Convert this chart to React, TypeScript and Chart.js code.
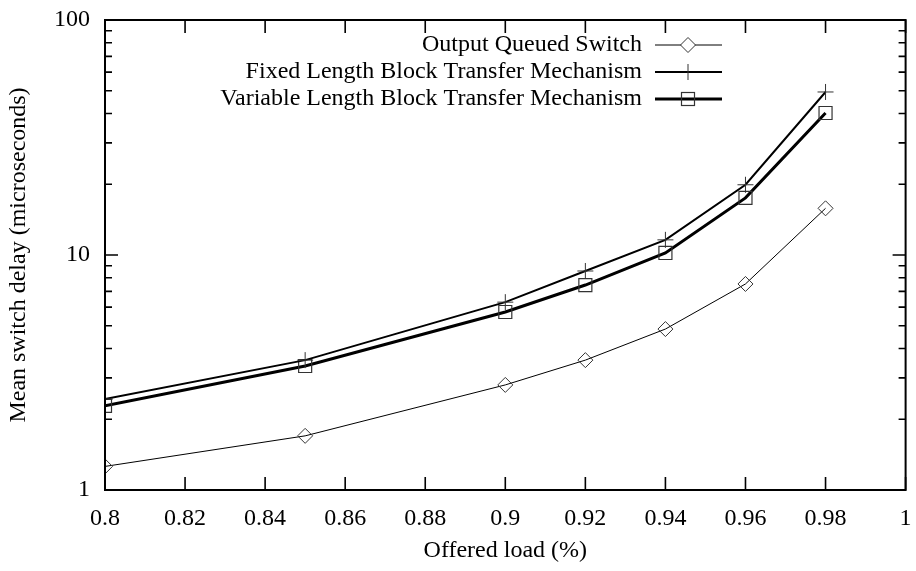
import React, { useEffect, useRef } from "react";
import { Chart, registerables } from "chart.js";

Chart.register(...registerables);

const loads = [0.8, 0.85, 0.9, 0.92, 0.94, 0.96, 0.98];
const outputQueued = [1.26, 1.7, 2.8, 3.57, 4.84, 7.53, 15.8];
const fixedLength = [2.44, 3.57, 6.3, 8.55, 11.6, 19.9, 49.4];
const variableLength = [2.28, 3.37, 5.72, 7.45, 10.2, 17.5, 40.2];
const seriesNames = [
  "Output Queued Switch",
  "Fixed Length Block Transfer Mechanism",
  "Variable Length Block Transfer Mechanism",
];
const yTickValues = [1, 10, 100];
const xTitle = "Offered load (%)";
const yTitle = "Mean switch delay (microseconds)";

const FONT = "'Liberation Serif', 'Times New Roman', serif";
const FS = 24;

const framePlugin = {
  id: "frameTicks",
  afterDraw(chart: any) {
    const ctx = chart.ctx;
    const { left, right, top, bottom } = chart.chartArea;
    const xs = chart.scales.x;
    const ys = chart.scales.y;
    ctx.save();
    ctx.strokeStyle = "#000";
    ctx.lineWidth = 1.6;
    ctx.beginPath();
    for (let k = 0; k <= 10; k++) {
      const px = xs.getPixelForValue(0.8 + k * 0.02);
      ctx.moveTo(px, bottom);
      ctx.lineTo(px, bottom - 13);
      ctx.moveTo(px, top);
      ctx.lineTo(px, top + 13);
    }
    for (let d = 1; d < 100; d *= 10) {
      for (let m = 1; m <= 10; m++) {
        const py = ys.getPixelForValue(d * m);
        const len = m === 1 || m === 10 ? 13 : 7;
        ctx.moveTo(left, py);
        ctx.lineTo(left + len, py);
        ctx.moveTo(right, py);
        ctx.lineTo(right - len, py);
      }
    }
    ctx.stroke();
    ctx.lineWidth = 2;
    ctx.strokeRect(left, top, right - left, bottom - top);

    // legend
    const rows = [45, 72, 99];
    const widths = [1, 2, 3];
    ctx.font = `${FS}px ${FONT}`;
    ctx.textAlign = "right";
    ctx.textBaseline = "middle";
    rows.forEach((y, i) => {
      ctx.fillStyle = "#000";
      ctx.fillText(seriesNames[i], 642, y);
      ctx.lineWidth = widths[i];
      ctx.strokeStyle = "#000";
      ctx.beginPath();
      ctx.moveTo(655, y);
      ctx.lineTo(722, y);
      ctx.stroke();
      ctx.lineWidth = 1;
      ctx.strokeStyle = "#333";
      ctx.fillStyle = "#fff";
      if (i === 0) {
        ctx.beginPath();
        ctx.moveTo(688, y - 7.5);
        ctx.lineTo(695.5, y);
        ctx.lineTo(688, y + 7.5);
        ctx.lineTo(680.5, y);
        ctx.closePath();
        ctx.fill();
        ctx.stroke();
      } else if (i === 1) {
        ctx.beginPath();
        ctx.moveTo(688, y - 8);
        ctx.lineTo(688, y + 8);
        ctx.stroke();
      } else {
        ctx.lineWidth = 1.2;
        ctx.strokeRect(681.5, y - 6.5, 13, 13);
      }
    });
    ctx.restore();
  },
};

export default function App() {
  const ref = useRef<HTMLCanvasElement | null>(null);
  useEffect(() => {
    if (!ref.current) return;
    const mk = (vals: number[]) => loads.map((x, i) => ({ x, y: vals[i] }));
    const chart = new Chart(ref.current, {
      type: "line",
      data: {
        datasets: [
          {
            label: seriesNames[0],
            data: mk(outputQueued),
            borderColor: "#000",
            borderWidth: 1,
            pointStyle: "rectRot",
            pointRadius: 7.5,
            pointBorderColor: "#333",
            pointBackgroundColor: "rgba(255,255,255,0)",
            pointBorderWidth: 1,
            tension: 0,
          },
          {
            label: seriesNames[1],
            data: mk(fixedLength),
            borderColor: "#000",
            borderWidth: 2,
            pointStyle: "cross",
            pointRadius: 8,
            pointBorderColor: "#333",
            pointBorderWidth: 1,
            tension: 0,
          },
          {
            label: seriesNames[2],
            data: mk(variableLength),
            borderColor: "#000",
            borderWidth: 3,
            pointStyle: "rect",
            pointRadius: 9.2,
            pointBorderColor: "#333",
            pointBackgroundColor: "rgba(255,255,255,0)",
            pointBorderWidth: 1.2,
            tension: 0,
          },
        ],
      },
      options: {
        animation: false,
        responsive: false,
        layout: { padding: { left: 0, right: 9, top: 20, bottom: 0 } },
        plugins: { legend: { display: false }, tooltip: { enabled: false } },
        scales: {
          x: {
            type: "linear",
            min: 0.8,
            max: 1,
            grid: { display: false, drawTicks: false },
            border: { display: false },
            ticks: {
              stepSize: 0.02,
              padding: 14,
              maxRotation: 0,
              autoSkip: false,
              color: "#000",
              font: { family: FONT, size: FS },
              callback: (v: any) => String(parseFloat(Number(v).toFixed(2))),
            },
            title: {
              display: true,
              text: xTitle,
              color: "#000",
              font: { family: FONT, size: FS },
              padding: { top: 0, bottom: 6 },
            },
            afterFit: (s: any) => {
              s.height = 81;
              s.paddingLeft = 0;
              s.paddingRight = 0;
            },
          },
          y: {
            type: "logarithmic",
            min: 1,
            max: 100,
            grid: { display: false, drawTicks: false },
            border: { display: false },
            afterBuildTicks: (s: any) => {
              s.ticks = yTickValues.map((v) => ({ value: v, major: true }));
            },
            ticks: {
              padding: 15,
              color: "#000",
              font: { family: FONT, size: FS },
              callback: (v: any) => String(v),
            },
            title: {
              display: true,
              text: yTitle,
              color: "#000",
              font: { family: FONT, size: FS },
              padding: { top: 4, bottom: 0 },
            },
            afterFit: (s: any) => {
              s.width = 105;
              s.paddingTop = 0;
              s.paddingBottom = 0;
            },
          },
        },
      },
      plugins: [framePlugin],
    });
    return () => chart.destroy();
  }, []);
  return (
    <div style={{ position: "fixed", left: 0, top: 0, width: 916, height: 571, background: "#fff" }}>
      <canvas ref={ref} width={916} height={571} style={{ width: 916, height: 571 }} />
    </div>
  );
}
